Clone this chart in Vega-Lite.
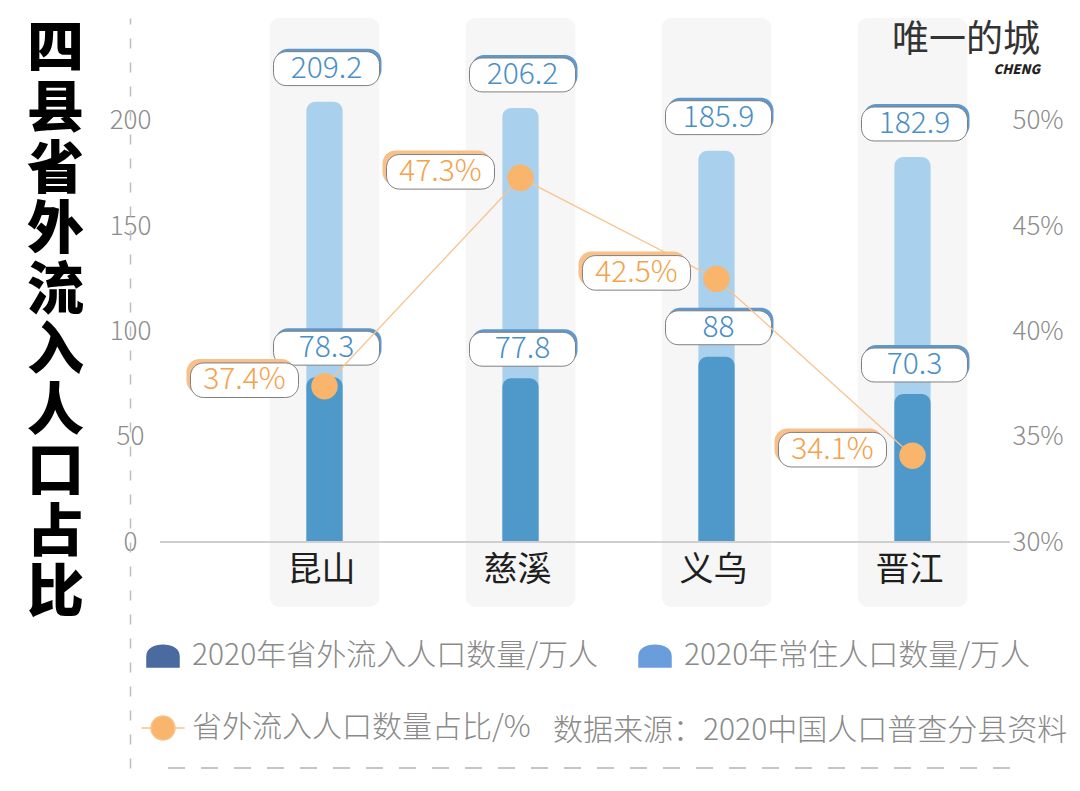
{
  "$schema": "https://vega.github.io/schema/vega-lite/v6.json",
  "width": 850,
  "height": 750,
  "autosize": {"type": "none"},
  "padding": {"left": 160, "top": 18, "right": 70, "bottom": 23},
  "background": "#ffffff",
  "config": {"view": {"stroke": null}, "font": "Noto Sans CJK SC"},
  "title": {
    "text": "唯一的城",
    "subtitle": "CHENG",
    "anchor": "end",
    "orient": "top",
    "frame": "group",
    "offset": -60,
    "dx": 30,
    "font": "Noto Sans CJK SC",
    "fontSize": 37,
    "fontWeight": 400,
    "color": "#333333",
    "subtitleFont": "Noto Sans CJK SC",
    "subtitleFontSize": 13,
    "subtitleFontStyle": "italic",
    "subtitleFontWeight": 900,
    "subtitleColor": "#222222",
    "subtitlePadding": 4
  },
  "data": {
    "values": [
      {"city": "昆山", "resident": 209.2, "inflow": 78.3, "share": 37.4},
      {"city": "慈溪", "resident": 206.2, "inflow": 77.8, "share": 47.3},
      {"city": "义乌", "resident": 185.9, "inflow": 88, "share": 42.5},
      {"city": "晋江", "resident": 182.9, "inflow": 70.3, "share": 34.1}
    ]
  },
  "resolve": {"scale": {"y": "independent"}},
  "layer": [
    {
      "mark": {"type": "bar", "color": "#f6f6f6", "cornerRadius": 10},
      "encoding": {
        "x": {
          "field": "city", "type": "nominal", "sort": null,
          "scale": {"paddingInner": 0.44, "paddingOuter": 0.3884, "align": 0.72},
          "axis": {"orient": "bottom", "title": null, "labels": false, "ticks": false, "domain": true, "domainDash": [17, 16], "domainColor": "#bdbdbd", "domainWidth": 1.5}
        },
        "y": {
          "datum": 248.93, "type": "quantitative",
          "scale": {"domain": [-107.36, 248.93], "nice": false, "zero": false},
          "axis": {
            "orient": "left",
            "title": ["四", "县", "省", "外", "流", "入", "人", "口", "占", "比"],
            "titleAngle": 0, "titleX": -75, "titleY": 3, "titleBaseline": "top", "titleAlign": "center",
            "titleFont": "Noto Sans CJK SC", "titleFontSize": 57, "titleFontWeight": 900, "titleColor": "#000000", "titleLineHeight": 60.5,
            "values": [0, 50, 100, 150, 200], "offset": 30,
            "domainDash": [10, 14], "domainColor": "#bdbdbd", "domainWidth": 1.5,
            "ticks": false, "grid": false,
            "labelAlign": "center", "labelBaseline": "middle", "labelPadding": 0,
            "labelFont": "Noto Sans CJK SC", "labelFontSize": 26, "labelFontWeight": 300, "labelColor": "#8c8c8c"
          }
        },
        "y2": {"datum": -30.9}
      }
    },
    {
      "mark": {"type": "rule", "color": "#c4c4c4", "strokeWidth": 1.5, "strokeDash": [17, 16]},
      "encoding": {
        "y": {"datum": -107.36, "type": "quantitative", "axis": null, "scale": {"domain": [-107.36, 248.93], "nice": false, "zero": false}}
      }
    },
    {
      "mark": {"type": "bar", "color": "#a9d0ec", "cornerRadiusTopLeft": 9, "cornerRadiusTopRight": 9, "width": {"band": 0.33}},
      "encoding": {
        "x": {"field": "city", "type": "nominal", "sort": null, "axis": null},
        "y": {"field": "resident", "type": "quantitative", "axis": null, "scale": {"domain": [-107.36, 248.93], "nice": false, "zero": false}},
        "y2": {"datum": 0}
      }
    },
    {
      "mark": {"type": "bar", "color": "#4f98ca", "cornerRadiusTopLeft": 9, "cornerRadiusTopRight": 9, "width": {"band": 0.33}},
      "encoding": {
        "x": {"field": "city", "type": "nominal", "sort": null, "axis": null},
        "y": {"field": "inflow", "type": "quantitative", "axis": null, "scale": {"domain": [-107.36, 248.93], "nice": false, "zero": false}},
        "y2": {"datum": 0}
      }
    },
    {
      "mark": {"type": "rule", "color": "#cfcfcf", "strokeWidth": 2},
      "encoding": {
        "y": {"datum": 0, "type": "quantitative", "axis": null, "scale": {"domain": [-107.36, 248.93], "nice": false, "zero": false}},
        "strokeDash": {
          "datum": "数据来源：2020中国人口普查分县资料",
          "scale": {"range": [[1, 0]]},
          "legend": {
            "orient": "none", "legendX": 363, "legendY": 698, "padding": 0, "title": null,
            "symbolSize": 0, "symbolOpacity": 0, "labelOffset": 0,
            "labelFont": "Noto Sans CJK SC", "labelFontSize": 30, "labelFontWeight": 300, "labelColor": "#8a8a8a", "labelLimit": 1200
          }
        }
      }
    },
    {
      "mark": {"type": "text", "font": "Noto Sans CJK SC", "fontSize": 34, "fontWeight": 400, "color": "#1e1e1e", "baseline": "middle", "xOffset": -3},
      "encoding": {
        "x": {"field": "city", "type": "nominal", "sort": null, "axis": null},
        "y": {"datum": -14, "type": "quantitative", "axis": null, "scale": {"domain": [-107.36, 248.93], "nice": false, "zero": false}},
        "text": {"field": "city"}
      }
    },
    {
      "mark": {"type": "point", "shape": "M-0.76,-0.32L0.76,-0.32C0.8925,-0.32 1,-0.2125 1,-0.08L1,0.08C1,0.2125 0.8925,0.32 0.76,0.32L-0.76,0.32C-0.8925,0.32 -1,0.2125 -1,0.08L-1,-0.08C-1,-0.2125 -0.8925,-0.32 -0.76,-0.32Z", "size": 11236, "filled": true, "fill": "#5e98cc", "strokeWidth": 0, "opacity": 1, "xOffset": 4, "yOffset": -36},
      "encoding": {
        "x": {"field": "city", "type": "nominal", "sort": null, "axis": null},
        "y": {"field": "resident", "type": "quantitative", "axis": null, "scale": {"domain": [-107.36, 248.93], "nice": false, "zero": false}}
      }
    },
    {
      "mark": {"type": "point", "shape": "M-0.76,-0.32L0.76,-0.32C0.8925,-0.32 1,-0.2125 1,-0.08L1,0.08C1,0.2125 0.8925,0.32 0.76,0.32L-0.76,0.32C-0.8925,0.32 -1,0.2125 -1,0.08L-1,-0.08C-1,-0.2125 -0.8925,-0.32 -0.76,-0.32Z", "size": 11236, "filled": true, "fill": "#5e98cc", "strokeWidth": 0, "opacity": 1, "xOffset": 4, "yOffset": -32},
      "encoding": {
        "x": {"field": "city", "type": "nominal", "sort": null, "axis": null},
        "y": {"field": "inflow", "type": "quantitative", "axis": null, "scale": {"domain": [-107.36, 248.93], "nice": false, "zero": false}}
      }
    },
    {
      "mark": {"type": "point", "shape": "M-0.76,-0.32L0.76,-0.32C0.8925,-0.32 1,-0.2125 1,-0.08L1,0.08C1,0.2125 0.8925,0.32 0.76,0.32L-0.76,0.32C-0.8925,0.32 -1,0.2125 -1,0.08L-1,-0.08C-1,-0.2125 -0.8925,-0.32 -0.76,-0.32Z", "size": 11236, "filled": true, "fill": "#ffffff", "stroke": "#7f7f7f", "strokeWidth": 1, "opacity": 1, "xOffset": 2, "yOffset": -33},
      "encoding": {
        "x": {"field": "city", "type": "nominal", "sort": null, "axis": null},
        "y": {"field": "resident", "type": "quantitative", "axis": null, "scale": {"domain": [-107.36, 248.93], "nice": false, "zero": false}}
      }
    },
    {
      "mark": {"type": "point", "shape": "M-0.76,-0.32L0.76,-0.32C0.8925,-0.32 1,-0.2125 1,-0.08L1,0.08C1,0.2125 0.8925,0.32 0.76,0.32L-0.76,0.32C-0.8925,0.32 -1,0.2125 -1,0.08L-1,-0.08C-1,-0.2125 -0.8925,-0.32 -0.76,-0.32Z", "size": 11236, "filled": true, "fill": "#ffffff", "stroke": "#7f7f7f", "strokeWidth": 1, "opacity": 1, "xOffset": 2, "yOffset": -29},
      "encoding": {
        "x": {"field": "city", "type": "nominal", "sort": null, "axis": null},
        "y": {"field": "inflow", "type": "quantitative", "axis": null, "scale": {"domain": [-107.36, 248.93], "nice": false, "zero": false}}
      }
    },
    {
      "mark": {"type": "text", "font": "Noto Sans CJK SC", "fontSize": 30, "fontWeight": 300, "color": "#4a8fc6", "baseline": "middle", "xOffset": 2, "yOffset": -33},
      "encoding": {
        "x": {"field": "city", "type": "nominal", "sort": null, "axis": null},
        "y": {"field": "resident", "type": "quantitative", "axis": null, "scale": {"domain": [-107.36, 248.93], "nice": false, "zero": false}},
        "text": {"field": "resident"}
      }
    },
    {
      "mark": {"type": "text", "font": "Noto Sans CJK SC", "fontSize": 30, "fontWeight": 300, "color": "#4a8fc6", "baseline": "middle", "xOffset": 2, "yOffset": -29},
      "encoding": {
        "x": {"field": "city", "type": "nominal", "sort": null, "axis": null},
        "y": {"field": "inflow", "type": "quantitative", "axis": null, "scale": {"domain": [-107.36, 248.93], "nice": false, "zero": false}},
        "text": {"field": "inflow"}
      }
    },
    {
      "mark": {"type": "line", "strokeWidth": 1.3},
      "encoding": {
        "x": {"field": "city", "type": "nominal", "sort": null, "axis": null},
        "y": {
          "field": "share", "type": "quantitative",
          "scale": {"domain": [19.264, 54.893], "nice": false, "zero": false},
          "axis": {
            "orient": "right", "title": null, "values": [30, 35, 40, 45, 50],
            "labelExpr": "datum.value + '%'",
            "domain": false, "ticks": false, "grid": false, "labelPadding": 2,
            "labelFont": "Noto Sans CJK SC", "labelFontSize": 26, "labelFontWeight": 300, "labelColor": "#8c8c8c"
          }
        },
        "color": {
          "datum": "省外流入人口数量占比/%",
          "scale": {
            "domain": ["2020年省外流入人口数量/万人", "2020年常住人口数量/万人", "省外流入人口数量占比/%"],
            "range": ["#4a6aa0", "#6a9ddb", "#f7c48f"]
          },
          "legend": {
            "orient": "none", "legendX": -14, "legendY": 621,
            "direction": "horizontal", "columns": 2,
            "columnPadding": 37, "rowPadding": 40, "padding": 0, "title": null,
            "symbolSize": 1024, "labelOffset": 12,
            "labelFont": "Noto Sans CJK SC", "labelFontSize": 30, "labelFontWeight": 300, "labelColor": "#8a8a8a", "labelLimit": 1200,
            "encode": {
              "symbols": {
                "update": {
                  "shape": {"signal": "datum.value === '省外流入人口数量占比/%' ? 'M-1.35,0L-0.75,0M0.75,0L1.35,0M0.75,0C0.75,0.414 0.414,0.75 0,0.75C-0.414,0.75 -0.75,0.414 -0.75,0C-0.75,-0.414 -0.414,-0.75 0,-0.75C0.414,-0.75 0.75,-0.414 0.75,0Z' : 'M-1,0.69L-1,0C-1,-0.9 1,-0.9 1,0L1,0.69Z'"},
                  "fill": {"signal": "datum.value === '2020年省外流入人口数量/万人' ? '#4a6aa0' : datum.value === '2020年常住人口数量/万人' ? '#6a9ddb' : '#f9b56b'"},
                  "fillOpacity": {"value": 1},
                  "strokeWidth": {"value": 1.5},
                  "opacity": {"value": 1}
                }
              }
            }
          }
        }
      }
    },
    {
      "mark": {"type": "point", "shape": "circle", "filled": true, "size": 700, "color": "#f9b56b", "opacity": 1},
      "encoding": {
        "x": {"field": "city", "type": "nominal", "sort": null, "axis": null},
        "y": {"field": "share", "type": "quantitative", "axis": null, "scale": {"domain": [19.264, 54.893], "nice": false, "zero": false}}
      }
    },
    {
      "mark": {"type": "point", "shape": "M-0.76,-0.32L0.76,-0.32C0.8925,-0.32 1,-0.2125 1,-0.08L1,0.08C1,0.2125 0.8925,0.32 0.76,0.32L-0.76,0.32C-0.8925,0.32 -1,0.2125 -1,0.08L-1,-0.08C-1,-0.2125 -0.8925,-0.32 -0.76,-0.32Z", "size": 11664, "filled": true, "fill": "#f8c08a", "strokeWidth": 0, "opacity": 1, "xOffset": -84, "yOffset": -10},
      "encoding": {
        "x": {"field": "city", "type": "nominal", "sort": null, "axis": null},
        "y": {"field": "share", "type": "quantitative", "axis": null, "scale": {"domain": [19.264, 54.893], "nice": false, "zero": false}}
      }
    },
    {
      "mark": {"type": "point", "shape": "M-0.76,-0.32L0.76,-0.32C0.8925,-0.32 1,-0.2125 1,-0.08L1,0.08C1,0.2125 0.8925,0.32 0.76,0.32L-0.76,0.32C-0.8925,0.32 -1,0.2125 -1,0.08L-1,-0.08C-1,-0.2125 -0.8925,-0.32 -0.76,-0.32Z", "size": 11664, "filled": true, "fill": "#ffffff", "stroke": "#7f7f7f", "strokeWidth": 1, "opacity": 1, "xOffset": -80, "yOffset": -6},
      "encoding": {
        "x": {"field": "city", "type": "nominal", "sort": null, "axis": null},
        "y": {"field": "share", "type": "quantitative", "axis": null, "scale": {"domain": [19.264, 54.893], "nice": false, "zero": false}}
      }
    },
    {
      "mark": {"type": "text", "font": "Noto Sans CJK SC", "fontSize": 30, "fontWeight": 300, "color": "#f4a24c", "baseline": "middle", "xOffset": -80, "yOffset": -6, "text": {"expr": "datum.share + '%'"}},
      "encoding": {
        "x": {"field": "city", "type": "nominal", "sort": null, "axis": null},
        "y": {"field": "share", "type": "quantitative", "axis": null, "scale": {"domain": [19.264, 54.893], "nice": false, "zero": false}}
      }
    }
  ]
}
